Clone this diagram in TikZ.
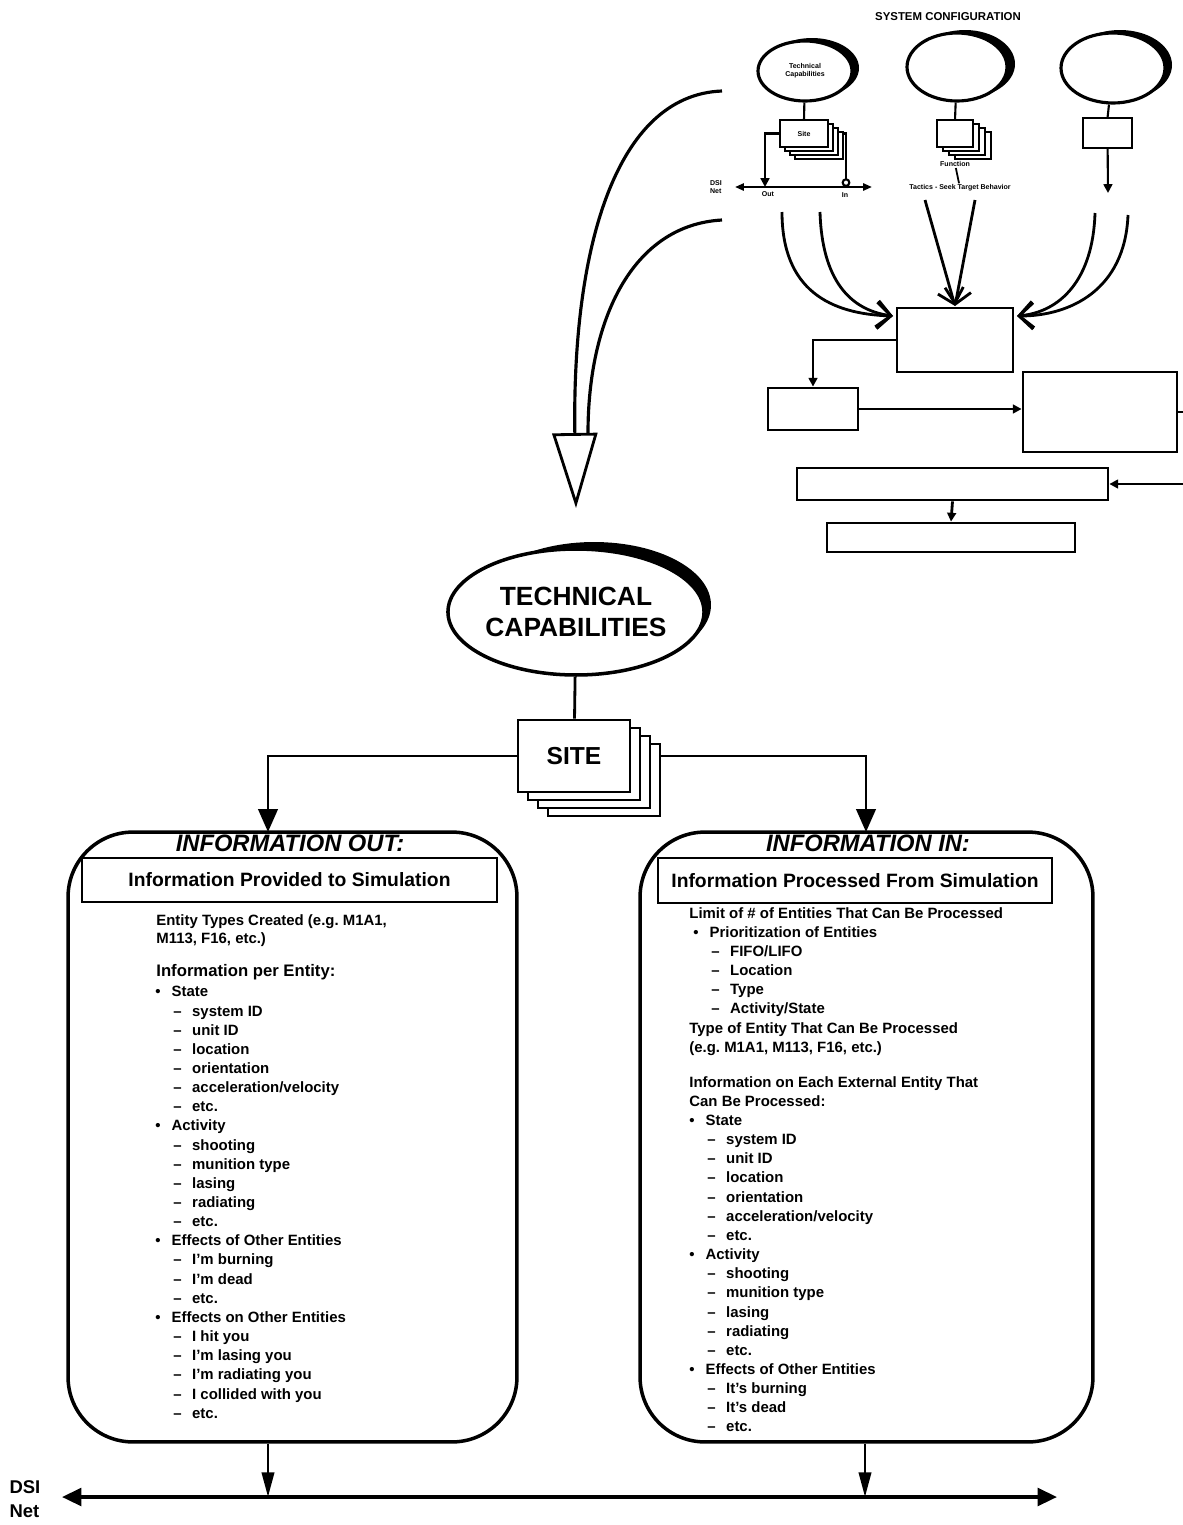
\documentclass[tikz,border=0pt]{standalone}
\usepackage{fontspec}
\setmainfont{Liberation Sans}
\usetikzlibrary{shapes.geometric,arrows.meta}
\frenchspacing
\newcommand{\bul}{\textbullet\hspace{0.22cm}}
\newcommand{\dsh}{\hspace*{0.36cm}--\hspace{0.21cm}}

\begin{document}
\begin{tikzpicture}[x=0.02cm,y=-0.02cm,line width=1.6pt]
      \tikzstyle{every node}=[font=\bfseries,inner sep=0]
      \tikzstyle{oval}=[ellipse,draw,fill=white,line width=1.8pt]
      \tikzstyle{shade}=[ellipse,fill=black]
      \tikzstyle{box}=[rectangle,draw,fill=white,line width=1.6pt]
      \tikzstyle{minibox}=[rectangle,draw,fill=white,line width=1.3pt]
      \tikzstyle{panel}=[rectangle,draw,rounded corners=1.3cm,line width=2pt,minimum height=12.2cm]
      \tikzstyle{listing}=[anchor=north west,align=left,font=\bfseries\fontsize{8.5}{10.9}\selectfont]
      \tikzstyle{tiny}=[font=\bfseries\fontsize{4}{4.6}\selectfont]
      \tikzstyle{feed}=[-{Triangle[length=5pt,width=5pt]}]
      \tikzstyle{drop}=[-{Triangle[length=13pt,width=11pt]}]
      \tikzstyle{barb}=[-{Straight Barb[length=8pt,width=15pt]}]
      \useasboundingbox (0,0) rectangle (1183,1525);
      %
      % system configuration (top right)
      \node [font=\bfseries\fontsize{6.5}{7}\selectfont] (syscfg) at (948,17) {SYSTEM CONFIGURATION};
      \node [shade,minimum width=1.88cm,minimum height=1.2cm] at (812,68) {};
      \node [oval,tiny,align=center,minimum width=1.88cm,minimum height=1.2cm] (tc) at (805,71) {Technical\\Capabilities};
      \node [shade,minimum width=2cm,minimum height=1.36cm] at (965,64) {};
      \node [oval,minimum width=2cm,minimum height=1.36cm] (oval2) at (957,67) {};
      \node [shade,minimum width=2.08cm,minimum height=1.4cm] at (1120,65) {};
      \node [oval,minimum width=2.08cm,minimum height=1.4cm] (oval3) at (1113,68) {};
      %
      \coordinate (minil) at (735,187);
      \coordinate (minir) at (872,187);
      \coordinate (outjack) at (765,187);
      \coordinate (injack) at (846,187);
      \coordinate (tap3) at (1108,193);
      \draw [line width=1.2pt] (tc) -- (804,120);
      \draw [line width=1.2pt] (oval2) -- (955,120);
      \draw [line width=1.2pt] (oval3) -- (1107.5,118);
      \draw [line width=1.2pt,feed] (804,133.5) -| (outjack);
      \draw [line width=1.2pt,-{Circle[open,length=5pt]}] (804,133.5) -| (injack);
      \node [minibox,minimum width=0.96cm,minimum height=0.54cm] at (819,145.5) {};
      \node [minibox,minimum width=0.96cm,minimum height=0.54cm] at (814,141.5) {};
      \node [minibox,minimum width=0.96cm,minimum height=0.54cm] at (809,137.5) {};
      \node [minibox,tiny,minimum width=0.96cm,minimum height=0.54cm] (sb1) at (804,133.5) {Site};
      \node [minibox,minimum width=0.72cm,minimum height=0.54cm] at (973,145.5) {};
      \node [minibox,minimum width=0.72cm,minimum height=0.54cm] at (967,141.5) {};
      \node [minibox,minimum width=0.72cm,minimum height=0.54cm] at (961,137.5) {};
      \node [minibox,minimum width=0.72cm,minimum height=0.54cm] (sb2) at (955,133.5) {};
      \node [minibox,minimum width=0.98cm,minimum height=0.6cm] (sb3) at (1107.5,133) {};
      \draw [line width=1.2pt,feed] (sb3) -- (tap3);
      \draw [line width=1.2pt,{Triangle[length=5pt,width=4pt]}-{Triangle[length=5pt,width=4pt]}] (minil) -- (minir);
      \node [tiny,align=left] (mininet) at (716,187) {DSI\\Net};
      \node [tiny] (outlbl) at (768,194) {Out};
      \node [tiny] (inlbl) at (845,195) {In};
      \node [tiny] (fnlbl) at (955,164) {Function};
      \node [tiny] (behav) at (960,188) {Tactics - Seek Target Behavior};
      \draw [line width=1pt] (fnlbl) -- (behav);
      %
      % converging arrows and the lower boxes
      \coordinate (la) at (782,212);
      \coordinate (lb) at (820,212);
      \coordinate (ma) at (925,200);
      \coordinate (mb) at (975,200);
      \coordinate (ra) at (1095,213);
      \coordinate (rb) at (1128,215);
      \coordinate (hubl) at (893,316);
      \coordinate (hubt) at (955,306);
      \coordinate (hubr) at (1017,316);
      \draw [barb] (la) .. controls (782,290) and (830,314) .. (hubl);
      \draw [barb] (lb) .. controls (822,280) and (850,310) .. (hubl);
      \draw [barb] (ma) -- (hubt);
      \draw [barb] (mb) -- (hubt);
      \draw [barb] (ra) .. controls (1093,280) and (1060,312) .. (hubr);
      \draw [barb] (rb) .. controls (1125,290) and (1070,316) .. (hubr);
      \node [box,minimum width=2.32cm,minimum height=1.28cm] (hub) at (955,340) {};
      \node [box,minimum width=1.8cm,minimum height=0.84cm] (smallbox) at (813,409) {};
      \node [box,minimum width=3.08cm,minimum height=1.6cm] (bigbox) at (1100,412) {};
      \node [box,minimum width=6.22cm,minimum height=0.64cm] (longbox) at (952.5,484) {};
      \node [box,minimum width=4.96cm,minimum height=0.58cm] (botbox) at (951,537.5) {};
      \coordinate (rim) at (1183,0);
      \draw [feed] (hub.west) -| (smallbox.north);
      \draw [feed] (smallbox.east) -- (smallbox.east -| bigbox.west);
      \draw (bigbox.east) -- (bigbox.east -| rim);
      \draw [feed] (longbox.east -| rim) -- (longbox.east);
      \draw [feed] (longbox.south) -- (botbox.north);
      %
      % the two sweeping arrows into technical capabilities
      \coordinate (big1) at (722,91);
      \coordinate (big2) at (722,220);
      \coordinate (tip) at (576,508);
      \draw [line width=1.8pt,-{Triangle[open,length=1.5cm,width=0.9cm,line width=1.6pt]}] (big1) .. controls (615,95) and (572,250) .. (tip);
      \draw [line width=1.8pt] (big2) .. controls (632,225) and (588,320) .. (588,433);
      %
      \node [shade,minimum width=4.68cm,minimum height=2.52cm] at (594,605) {};
      \node [oval,line width=2pt,align=center,minimum width=4.68cm,minimum height=2.52cm,font=\bfseries\fontsize{15}{17.6}\selectfont] (tcap) at (576,612) {TECHNICAL\\CAPABILITIES};
      %
      \node [box,minimum width=2.24cm,minimum height=1.44cm] (site3) at (604,780) {};
      \node [box,minimum width=2.24cm,minimum height=1.44cm] (site2) at (594,772) {};
      \node [box,minimum width=2.24cm,minimum height=1.44cm] (site1) at (584,764) {};
      \node [box,minimum width=2.24cm,minimum height=1.44cm,font=\bfseries\fontsize{14}{14}\selectfont] (site) at (574,756) {SITE};
      \draw (tcap) -- (site);
      %
      % information panels
      \node [panel,minimum width=8.98cm] (outbox) at (292.5,1137) {};
      \node [panel,minimum width=9.06cm] (inbox) at (866.5,1137) {};
      \coordinate (outtop) at (268,832);
      \coordinate (intop) at (866,832);
      \draw [drop] (site.west) -| (outtop);
      \draw [drop] (site.west -| site3.east) -| (intop);
      \node [font=\bfseries\itshape\fontsize{13.5}{14}\selectfont] (outhead) at (290,843) {INFORMATION OUT:};
      \node [font=\bfseries\itshape\fontsize{13.5}{14}\selectfont] (inhead) at (868,843) {INFORMATION IN:};
      \node [box,minimum width=8.3cm,minimum height=0.88cm,font=\bfseries\fontsize{11}{12}\selectfont] (outtitle) at (289.5,880) {Information Provided to Simulation};
      \node [box,minimum width=7.88cm,minimum height=0.9cm,font=\bfseries\fontsize{11}{12}\selectfont] (intitle) at (855,880.5) {Information Processed From Simulation};
      %
      \node [listing,font=\bfseries\fontsize{8.5}{10.4}\selectfont] (outtypes) at (155,913) {Entity Types Created (e.g. M1A1,\\M113, F16, etc.)};
      \node [listing,font=\bfseries\fontsize{9.5}{11}\selectfont] (outper) at (155,963) {Information per Entity:};
      \node [listing] (outlist) at (154,985) {\bul State\\\dsh system ID\\\dsh unit ID\\\dsh location\\\dsh orientation\\\dsh acceleration/velocity\\\dsh etc.\\\bul Activity\\\dsh shooting\\\dsh munition type\\\dsh lasing\\\dsh radiating\\\dsh etc.\\\bul Effects of Other Entities\\\dsh I'm burning\\\dsh I'm dead\\\dsh etc.\\\bul Effects on Other Entities\\\dsh I hit you\\\dsh I'm lasing you\\\dsh I'm radiating you\\\dsh I collided with you\\\dsh etc.};
      %
      \node [listing] (inlimit) at (688,906) {Limit of \# of Entities That Can Be Processed\\\hspace*{0.08cm}\bul Prioritization of Entities\\\hspace*{0.08cm}\dsh FIFO/LIFO\\\hspace*{0.08cm}\dsh Location\\\hspace*{0.08cm}\dsh Type\\\hspace*{0.08cm}\dsh Activity/State\\Type of Entity That Can Be Processed\\(e.g. M1A1, M113, F16, etc.)};
      \node [listing] (inlist) at (688,1075) {Information on Each External Entity That\\Can Be Processed:\\\bul State\\\dsh system ID\\\dsh unit ID\\\dsh location\\\dsh orientation\\\dsh acceleration/velocity\\\dsh etc.\\\bul Activity\\\dsh shooting\\\dsh munition type\\\dsh lasing\\\dsh radiating\\\dsh etc.\\\bul Effects of Other Entities\\\dsh It's burning\\\dsh It's dead\\\dsh etc.};
      %
      % DSI net
      \coordinate (netl) at (62,1497);
      \coordinate (netr) at (1057,1497);
      \coordinate (outdrop) at (268,1497);
      \coordinate (indrop) at (865,1497);
      \draw [line width=2pt,{Triangle[length=11pt,width=10pt]}-{Triangle[length=11pt,width=10pt]}] (netl) -- (netr);
      \draw [-{Triangle[length=14pt,width=7pt]}] (outdrop |- outbox.south) -- (outdrop);
      \draw [-{Triangle[length=14pt,width=7pt]}] (indrop |- inbox.south) -- (indrop);
      \node [align=left,font=\bfseries\fontsize{10.5}{13.5}\selectfont] (dsi) at (25,1499) {DSI\\Net};
    \end{tikzpicture}
\end{document}
